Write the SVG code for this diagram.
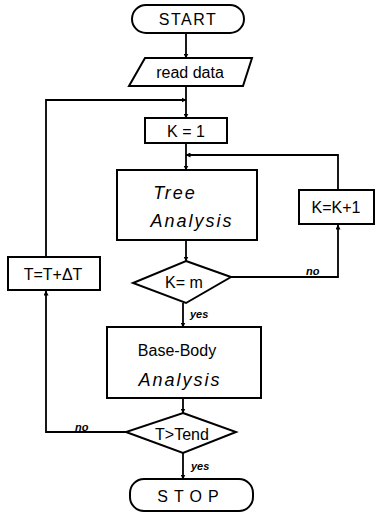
<svg xmlns="http://www.w3.org/2000/svg" width="376" height="513" viewBox="0 0 376 513">
<style>
.s{fill:#fff;stroke:#000;stroke-width:2}
.c{fill:none;stroke:#000;stroke-width:1.8}
.t{font-family:"Liberation Sans",Arial,sans-serif;font-size:16px;fill:#000;text-anchor:middle}
.i{font-style:italic;font-size:18px}
.l{font-family:"Liberation Sans",Arial,sans-serif;font-size:11px;font-style:italic;font-weight:bold;fill:#000}
</style>
<defs>
<marker id="a" viewBox="0 0 10 10" refX="9" refY="5" markerWidth="5" markerHeight="5" orient="auto" markerUnits="userSpaceOnUse">
<path d="M0,0 L10,5 L0,10 z" fill="#000"/>
</marker>
</defs>
<rect width="376" height="513" fill="#fff"/>
<g id="connectors">
<path class="c" d="M186,33 V58" marker-end="url(#a)"/>
<path class="c" d="M186,86 V118" marker-end="url(#a)"/>
<path class="c" d="M46,257 V100 H186" marker-end="url(#a)"/>
<path class="c" d="M186,143 V170" marker-end="url(#a)"/>
<path class="c" d="M338,190 V155 H186" marker-end="url(#a)"/>
<path class="c" d="M186,240 V261" marker-end="url(#a)"/>
<path class="c" d="M231,277 H338 V225" marker-end="url(#a)"/>
<path class="c" d="M183,303 V327" marker-end="url(#a)"/>
<path class="c" d="M183,398 V413" marker-end="url(#a)"/>
<path class="c" d="M183,453 V479" marker-end="url(#a)"/>
<path class="c" d="M126,432 H46 V291" marker-end="url(#a)"/>
<text class="l" x="190" y="318">yes</text>
<text class="l" x="191" y="470">yes</text>
<text class="l" x="306" y="275">no</text>
<text class="l" x="75" y="431">no</text>
</g>
<g id="start">
<rect class="s" x="132" y="5" width="112" height="28" rx="14"/>
<text class="t" x="188" y="25" font-size="17" letter-spacing="1.5">START</text>
</g>
<g id="read">
<path class="s" d="M145,58 H252 L243,86 H129 Z"/>
<text class="t" x="190" y="78" font-size="17">read data</text>
</g>
<g id="k1">
<rect class="s" x="145" y="118" width="82" height="25"/>
<text class="t" x="186" y="137">K = 1</text>
</g>
<g id="tree">
<rect class="s" x="117" y="170" width="140" height="70"/>
<text class="t i" x="175" y="199" letter-spacing="2">Tree</text>
<text class="t i" x="192" y="227" letter-spacing="2">Analysis</text>
</g>
<g id="kk1">
<rect class="s" x="299" y="190" width="75" height="34"/>
<text class="t" x="336" y="213">K=K+1</text>
</g>
<g id="km">
<path class="s" d="M186,261 L231,277 L186,303 L133,283 Z"/>
<text class="t" x="184" y="288">K= m</text>
</g>
<g id="tt">
<rect class="s" x="8" y="257" width="92" height="33"/>
<text class="t" x="53" y="280">T=T+ΔT</text>
</g>
<g id="base">
<rect class="s" x="107" y="327" width="154" height="71"/>
<text class="t" x="177" y="356" font-size="17">Base-Body</text>
<text class="t i" x="180" y="386" letter-spacing="2">Analysis</text>
</g>
<g id="tend">
<path class="s" d="M183,413 L236,432 L183,453 L126,432 Z"/>
<text class="t" x="182" y="440" font-size="15">T&gt;Tend</text>
</g>
<g id="stop">
<rect class="s" x="130" y="479" width="123" height="32" rx="14"/>
<text class="t" x="191" y="502" font-size="17" letter-spacing="6">STOP</text>
</g>
</svg>
